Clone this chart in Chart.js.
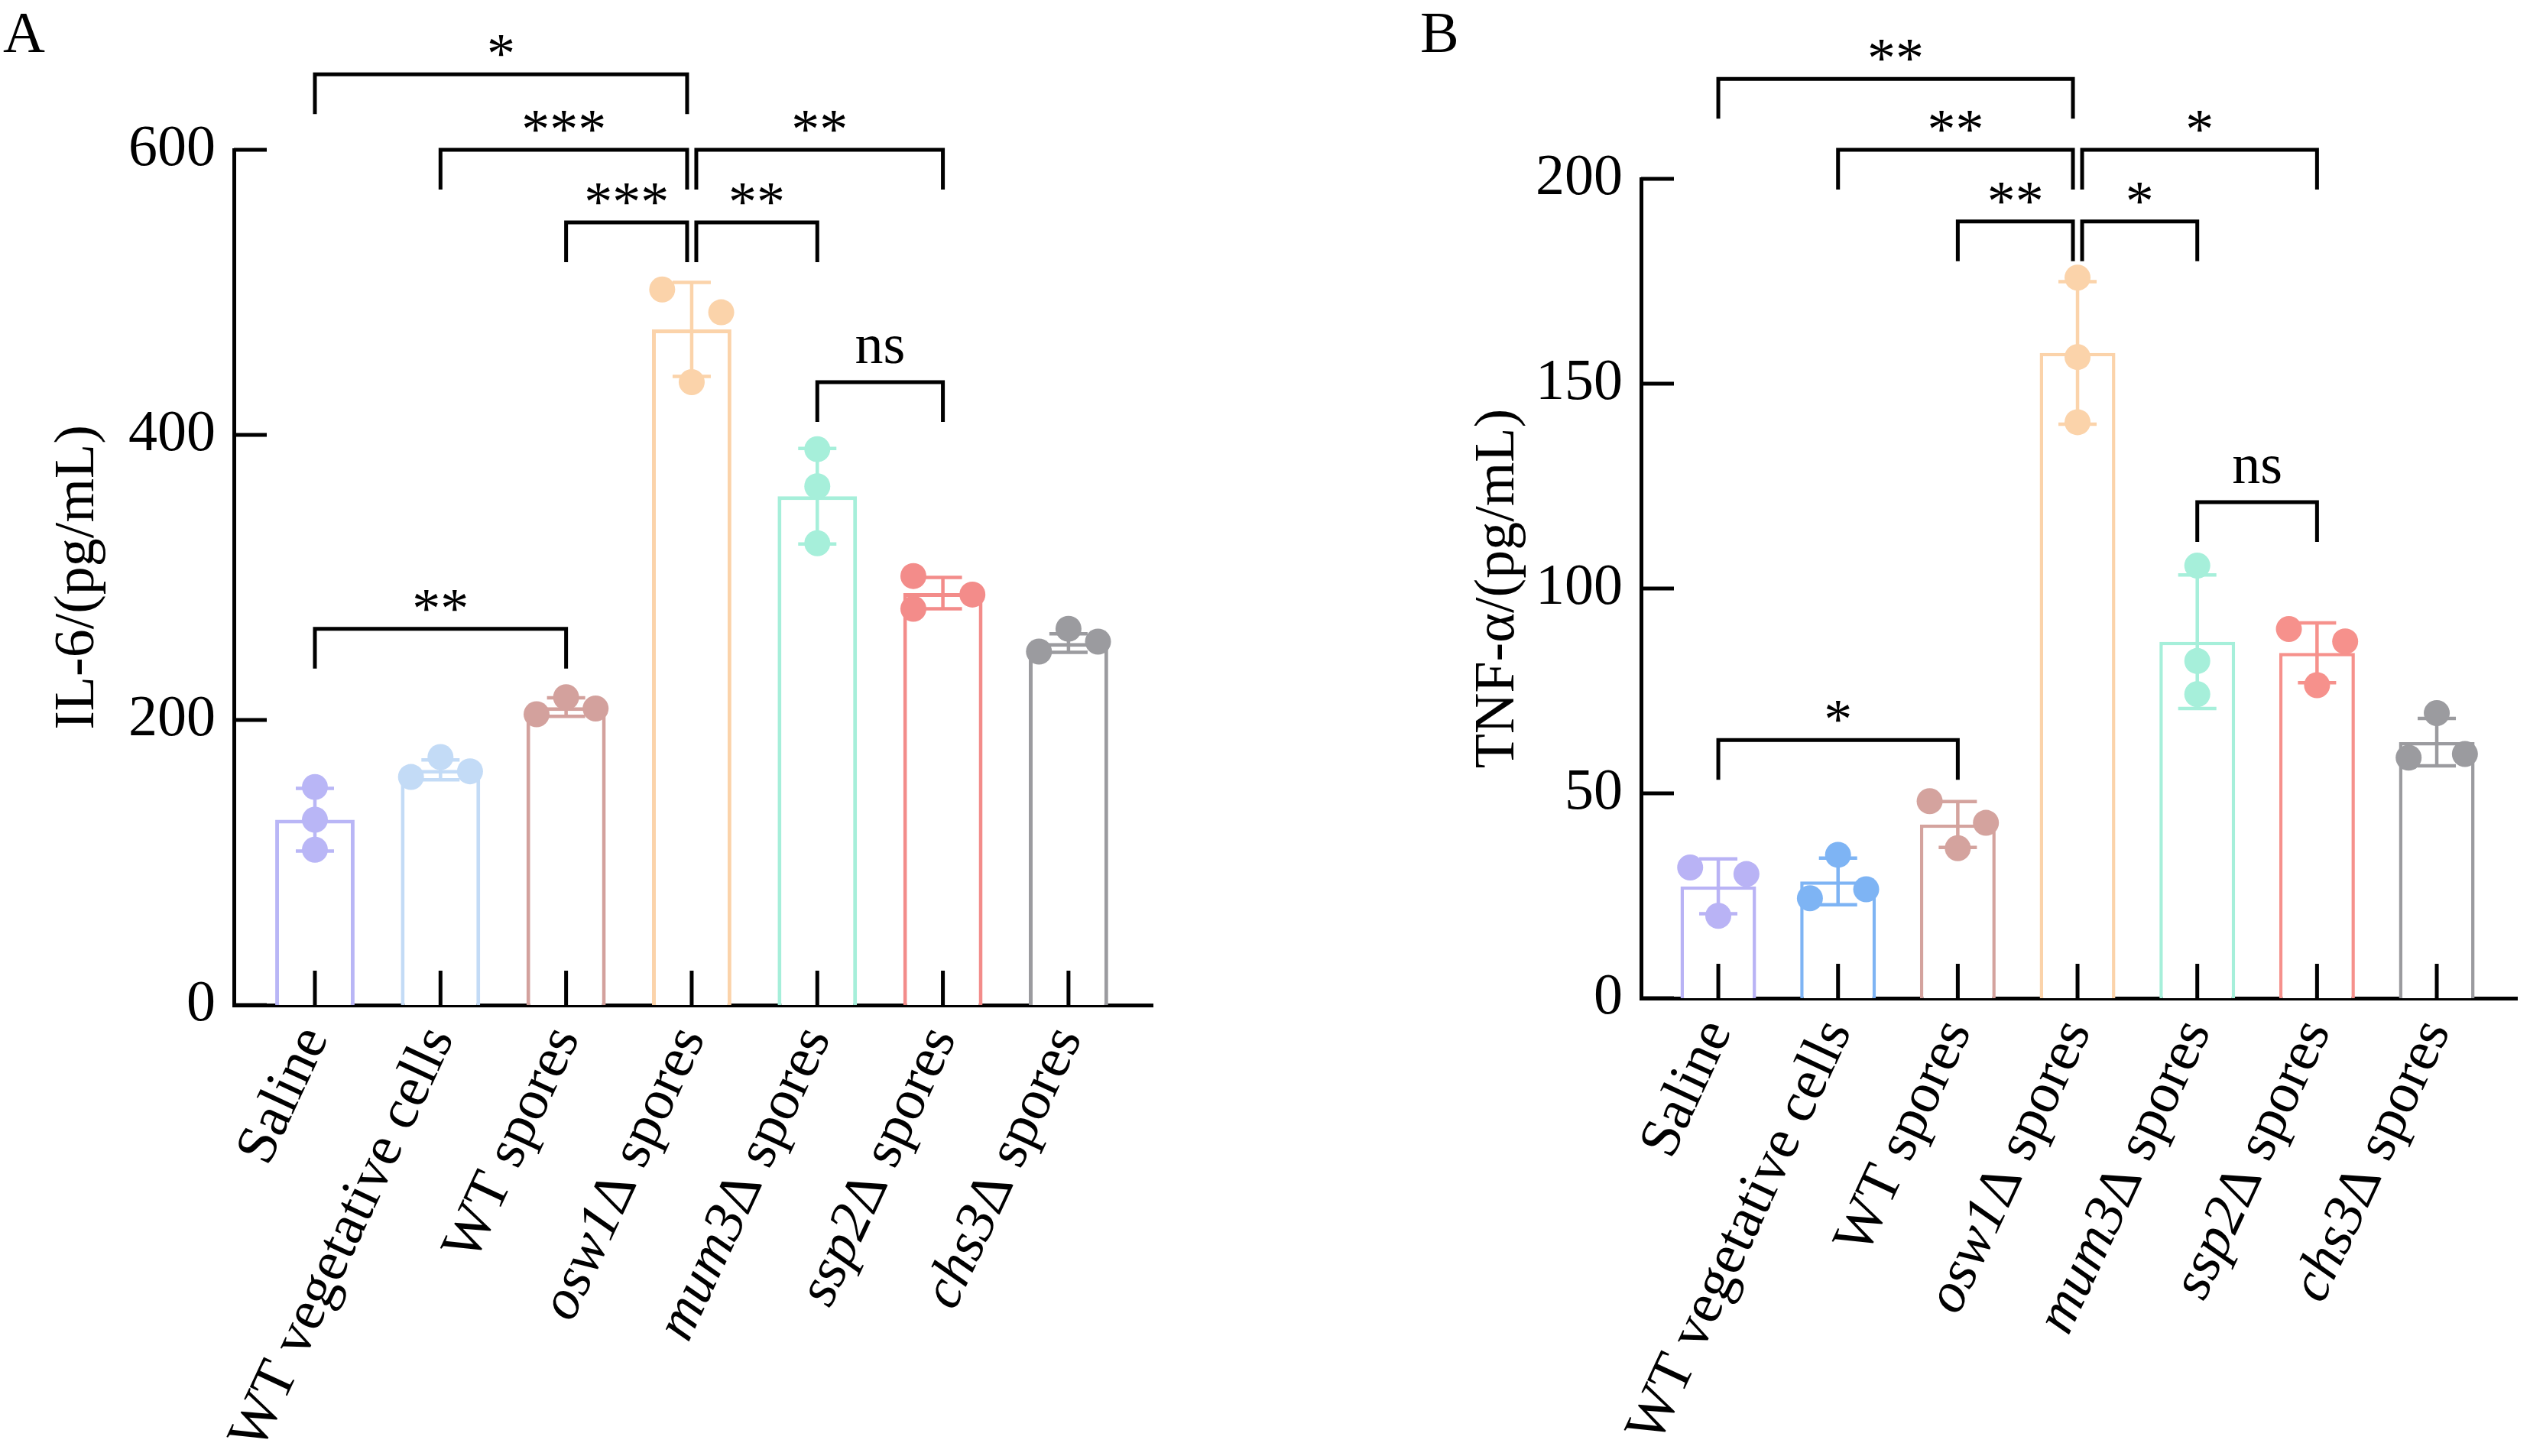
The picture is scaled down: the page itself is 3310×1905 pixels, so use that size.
<!DOCTYPE html>
<html><head><meta charset="utf-8">
<script src="https://cdn.jsdelivr.net/npm/chart.js@4.4.1/dist/chart.umd.min.js"></script>
<style>
html,body{margin:0;padding:0;background:#fff;width:3310px;height:1905px;overflow:hidden}
canvas{position:absolute;top:0}
#cA{left:0}
#cB{left:1655px}
</style></head><body>
<canvas id="cA" width="1655" height="1905"></canvas>
<canvas id="cB" width="1655" height="1905"></canvas>
<script>
// ---------- data ----------
const categories = ['Saline','WT vegetative cells','WT spores','osw1Δ spores','mum3Δ spores','ssp2Δ spores','chs3Δ spores'];
const italicPart = ['','','','osw1','mum3','ssp2','chs3'];

const colorsA = ['#b9b6f6','#c3dbf6','#d3a19d','#fbd3aa','#a6efda','#f38c8a','#9b9b9f'];
const colorsB = ['#b9b3f5','#7eb4f4','#d4a39e','#fbd3aa','#a6efda','#f6918c','#9b9b9f'];

const il6Mean   = [130, 165, 209, 474, 357, 289, 254];
const il6SD     = [22, 7, 6.5, 33, 33.5, 11, 6.5];
const il6Points = [[153,130,109],[174,160,164],[216,204,208],[502,486,437],[390,364,324],[301,288,278],[264,248,255]];
const il6Jitter = [[0,0,0],[0,-1,1],[0,-1,1],[-1,1,0],[0,0,0],[-1,1,-1],[0,-1,1]];
const il6Ticks  = [0, 200, 400, 600];
const il6Brackets = [
  {from:0, to:3, y:653, label:'*'},
  {from:1, to:3, y:600, label:'***'},
  {from:3, to:5, y:600, label:'**'},
  {from:2, to:3, y:549, label:'***'},
  {from:3, to:4, y:549, label:'**'},
  {from:4, to:5, y:437, label:'ns'},
  {from:0, to:2, y:264, label:'**'}
];

const tnfMean   = [27.3, 28.5, 42.4, 157.5, 87.0, 84.3, 62.5];
const tnfSD     = [6.7, 5.7, 5.6, 17.4, 16.3, 7.3, 5.8];
const tnfPoints = [[31.9,30.3,20.1],[35.0,24.4,26.6],[48.1,42.8,36.6],[175.9,156.5,140.6],[105.6,82.3,74.2],[90.1,87.1,76.4],[69.6,58.7,59.6]];
const tnfJitter = [[-1,1,0],[0,-1,1],[-1,1,0],[0,0,0],[0,0,0],[-1,1,0],[0,-1,1]];
const tnfTicks  = [0, 50, 100, 150, 200];
const tnfBrackets = [
  {from:0, to:3, y:224.4, label:'**'},
  {from:1, to:3, y:207.1, label:'**'},
  {from:3, to:5, y:207.1, label:'*'},
  {from:2, to:3, y:189.6, label:'**'},
  {from:3, to:4, y:189.6, label:'*'},
  {from:4, to:5, y:121.1, label:'ns'},
  {from:0, to:2, y:63, label:'*'}
];

// ---------- style ----------
const FONT = '"Liberation Serif", "Times New Roman", serif';
const JIT = 0.235;
const HUB = 3;

function makePanel(id, o) {
  const barData = o.mean.map((v, i) => ({x: i, y: v}));
  const ptData = [], ptColors = [];
  o.points.forEach((arr, i) => arr.forEach((v, k) => {
    ptData.push({x: i + o.jitter[i][k] * JIT, y: v});
    ptColors.push(o.colors[i]);
  }));

  const deco = {
    id: 'deco' + id,
    afterDatasetDraw(chart, args) {
      if (args.index !== 1) return;
      const ctx = chart.ctx, xs = chart.scales.x, ys = chart.scales.y;
      ctx.save();
      ctx.lineWidth = o.errW;
      o.mean.forEach((m, i) => {
        const x = xs.getPixelForValue(i);
        const yt = ys.getPixelForValue(m + o.sd[i]);
        const yb = ys.getPixelForValue(m - o.sd[i]);
        ctx.strokeStyle = o.colors[i];
        ctx.beginPath();
        ctx.moveTo(x, yt); ctx.lineTo(x, yb);
        ctx.moveTo(x - 25, yt); ctx.lineTo(x + 25, yt);
        ctx.moveTo(x - 25, yb); ctx.lineTo(x + 25, yb);
        ctx.stroke();
      });
      ctx.restore();
    },
    afterDraw(chart) {
      const ctx = chart.ctx, xs = chart.scales.x, ys = chart.scales.y, ca = chart.chartArea;
      ctx.save();
      ctx.strokeStyle = '#000'; ctx.fillStyle = '#000'; ctx.lineWidth = 5;
      // inward y ticks
      ctx.beginPath();
      o.ticks.forEach(v => {
        const y = ys.getPixelForValue(v);
        ctx.moveTo(ca.left, y); ctx.lineTo(ca.left + 43, y);
      });
      // inward x ticks
      categories.forEach((c, i) => {
        const x = xs.getPixelForValue(i);
        ctx.moveTo(x, ca.bottom); ctx.lineTo(x, ca.bottom - 45);
      });
      ctx.stroke();
      // brackets
      ctx.lineWidth = 5;
      o.brackets.forEach(b => {
        const x1 = xs.getPixelForValue(b.from) + (b.from === HUB ? 6 : 0);
        const x2 = xs.getPixelForValue(b.to) - (b.to === HUB ? 6 : 0);
        const y = ys.getPixelForValue(b.y);
        ctx.beginPath();
        ctx.moveTo(x1, y + 52); ctx.lineTo(x1, y); ctx.lineTo(x2, y); ctx.lineTo(x2, y + 52);
        ctx.stroke();
        ctx.font = '74px ' + FONT;
        ctx.textAlign = 'center'; ctx.textBaseline = 'alphabetic';
        ctx.fillText(b.label, (x1 + x2) / 2, y - (b.label === 'ns' ? 25 : 2));
      });
      // x labels (mixed italic)
      const ang = 65 * Math.PI / 180;
      const fI = 'italic 75px ' + FONT, fN = '75px ' + FONT;
      categories.forEach((lab, i) => {
        const it = italicPart[i];
        const rest = lab.slice(it.length);
        const px = xs.getPixelForValue(i);
        ctx.save();
        ctx.translate(px, ca.bottom + 34);
        ctx.rotate(-ang);
        ctx.textBaseline = 'middle'; ctx.textAlign = 'left';
        ctx.font = fI; const wI = it ? ctx.measureText(it).width : 0;
        ctx.font = fN; const wN = ctx.measureText(rest).width;
        const x0 = -(wI + wN);
        if (it) { ctx.font = fI; ctx.fillText(it, x0, 0); }
        ctx.font = fN; ctx.fillText(rest, x0 + wI, 0);
        ctx.restore();
      });
      // panel letter
      ctx.font = '76px ' + FONT; ctx.textAlign = 'left'; ctx.textBaseline = 'alphabetic';
      ctx.fillText(o.letter, o.letterX, 68);
      ctx.restore();
    }
  };

  return new Chart(document.getElementById(id), {
    type: 'bar',
    data: {
      datasets: [
        {type: 'scatter', data: ptData, order: 0, pointRadius: 17, pointHoverRadius: 17,
         pointBackgroundColor: ptColors, pointBorderWidth: 0, pointBorderColor: ptColors},
        {type: 'bar', data: barData, order: 1, backgroundColor: '#ffffff',
         borderColor: o.colors, borderWidth: o.barW, barPercentage: 0.79, categoryPercentage: 0.8}
      ]
    },
    options: {
      responsive: false, devicePixelRatio: 1, animation: false,
      layout: {padding: {left: o.padL, right: o.padR, top: o.padT, bottom: 0}},
      plugins: {legend: {display: false}, tooltip: {enabled: false}},
      scales: {
        x: {type: 'linear', min: -0.645, max: 6.67, offset: false,
            afterBuildTicks: s => { s.ticks = categories.map((c, i) => ({value: i})); },
            ticks: {display: false}, grid: {display: false, drawTicks: false, offset: false},
            border: {display: true, color: '#000', width: 5},
            afterFit: s => { s.height = o.xH; }},
        y: {type: 'linear', min: 0, max: o.yMax,
            afterBuildTicks: s => { s.ticks = o.ticks.map(v => ({value: v})); },
            ticks: {color: '#000', padding: 24, font: {family: FONT, size: 76}},
            grid: {display: false, drawTicks: false},
            border: {display: true, color: '#000', width: 5},
            title: {display: true, text: o.title, color: '#000', font: {family: FONT, size: 74}},
            afterFit: s => { s.width = o.yW; }}
      }
    },
    plugins: [deco]
  });
}

makePanel('cA', {mean: il6Mean, sd: il6SD, points: il6Points, jitter: il6Jitter, colors: colorsA,
  ticks: il6Ticks, yMax: 600, brackets: il6Brackets, title: 'IL-6/(pg/mL)', letter: 'A', letterX: 4,
  padL: 54, padR: 147, padT: 196, yW: 252, xH: 590, barW: 5, errW: 4.5});
makePanel('cB', {mean: tnfMean, sd: tnfSD, points: tnfPoints, jitter: tnfJitter, colors: colorsB,
  ticks: tnfTicks, yMax: 200, brackets: tnfBrackets, title: 'TNF-α/(pg/mL)', letter: 'B', letterX: 203,
  padL: 257, padR: 5, padT: 234, yW: 235, xH: 599, barW: 4.5, errW: 4.5});
</script>
</body></html>
